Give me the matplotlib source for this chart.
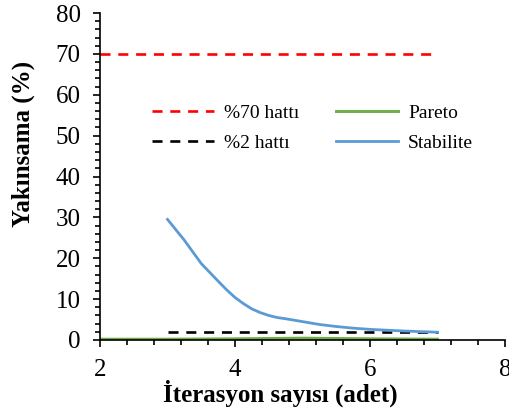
import numpy as np
import matplotlib.pyplot as plt
from matplotlib.ticker import MultipleLocator

plt.rcParams['font.family'] = ['Liberation Serif', 'DejaVu Serif']

stab_x = [3, 3.25, 3.5, 3.75, 3.875, 4, 4.125, 4.25, 4.375, 4.5, 4.625, 4.75, 5,
          5.25, 5.5, 5.75, 6, 6.5, 7]
stab_y = [29.5, 24.4, 18.7, 14.4, 12.3, 10.4, 8.9, 7.6, 6.7, 6.0, 5.5, 5.2, 4.5,
          3.8, 3.3, 2.9, 2.6, 2.2, 1.9]
pareto_x = [2, 3, 4, 5, 6, 7]
pareto_y = [0.2, 0.2, 0.3, 0.45, 0.3, 0.2]
h70_x = [2, 7]
h70_y = [70, 70]
h2_x = [3, 7]
h2_y = [2, 2]

fig = plt.figure(figsize=(5.09, 4.13), dpi=100)
ax = fig.add_axes([100/509, 1-340/413, 405/509, 327/413])

ax.plot(h70_x, h70_y, color='#FF0000', lw=1.9, dashes=(3.8, 2.95), label='%70 hattı')
ax.plot(h2_x, h2_y, color='black', lw=1.9, dashes=(3.8, 2.95), label='%2 hattı')
ax.plot(pareto_x, pareto_y, color='#70AD47', lw=2.1, label='Pareto')
ax.plot(stab_x, stab_y, color='#5B9BD5', lw=2.0, label='Stabilite')

ax.set_xlim(2, 8)
ax.set_ylim(0, 80)
ax.xaxis.set_major_locator(MultipleLocator(2))
ax.xaxis.set_minor_locator(MultipleLocator(0.4))
ax.yaxis.set_major_locator(MultipleLocator(10))
ax.yaxis.set_minor_locator(MultipleLocator(2))

for s in ['top', 'right']:
    ax.spines[s].set_visible(False)
for s in ['left', 'bottom']:
    ax.spines[s].set_linewidth(1.2)

ax.tick_params(which='major', length=5, width=1.2, labelsize=18, pad=9)
ax.tick_params(which='minor', length=3.5, width=1.2)

ax.set_xlabel('İterasyon sayısı (adet)', fontsize=18, fontweight='bold', labelpad=0)
ax.xaxis.set_label_coords(0.444, -0.122)
ax.set_ylabel('Yakınsama (%)', fontsize=18, fontweight='bold')
ax.yaxis.set_label_coords(-0.16, 0.60)

ax.legend(ncol=2, frameon=False, fontsize=14, handlelength=3.2, handletextpad=0.5,
          columnspacing=1.9, labelspacing=0.65, borderpad=0, borderaxespad=0,
          loc='upper left', bbox_to_anchor=(152/509, 1-104/413),
          bbox_transform=fig.transFigure)

fig.savefig('out.png', dpi=100)
